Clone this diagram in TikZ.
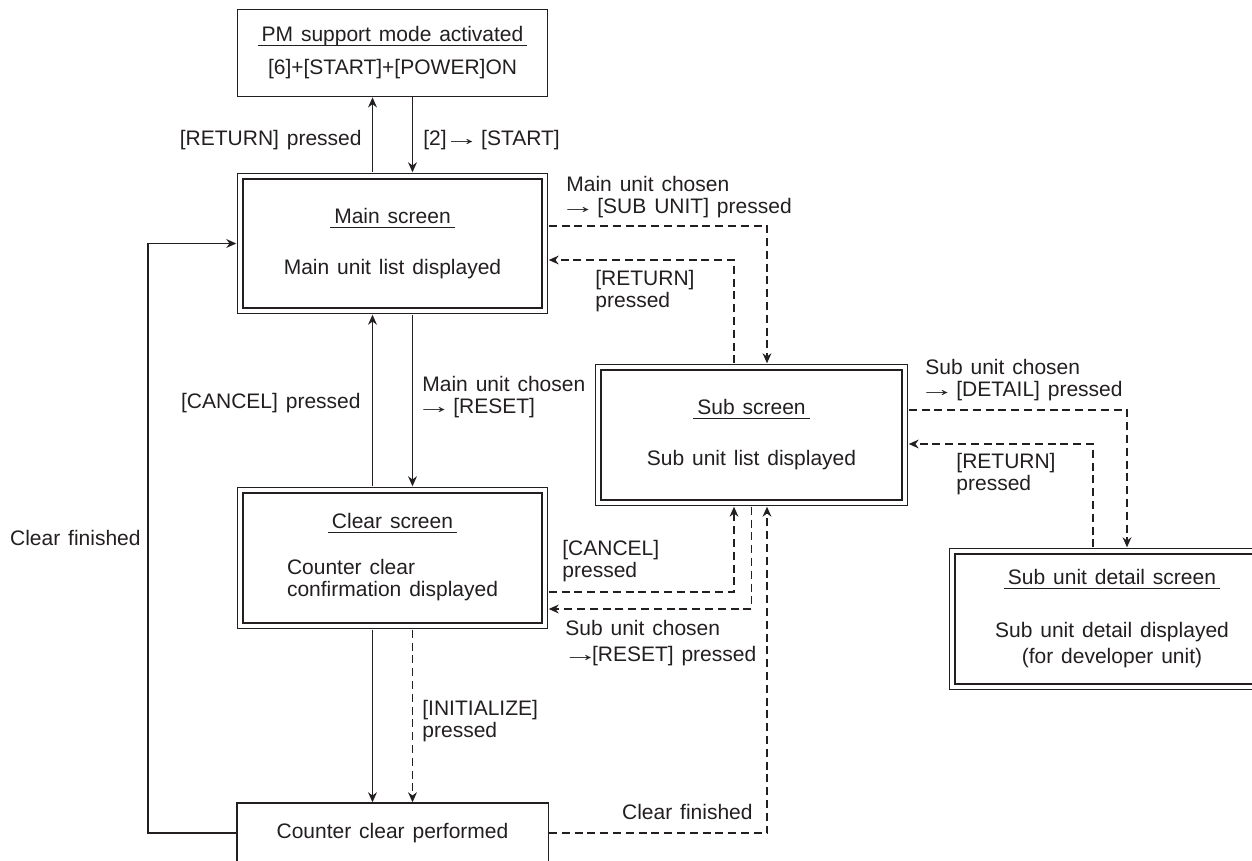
\documentclass[tikz,border=0pt]{standalone}
\usepackage{graphicx}
\usepackage{fontspec}
\setmainfont{Liberation Sans}[WordSpace=1.35]
\usetikzlibrary{arrows.meta,calc}
\definecolor{ink}{HTML}{231F20}
\newsavebox{\ttlbox}
\newcommand{\scrtitle}[1]{\sbox{\ttlbox}{\hspace{2pt}#1\hspace{2pt}}\rlap{\color{ink}\rule[-2.2pt]{\wd\ttlbox}{0.6pt}}\usebox{\ttlbox}}
\newcommand{\goto}{\kern-0.3em\scalebox{1.7}[1]{→}\kern-0.3em}

\begin{document}
\begin{tikzpicture}[x=0.5pt,y=-0.5pt,
		every node/.style={font=\fontsize{10.5}{10.5}\selectfont, text=ink},
		box/.style={draw=ink, line width=0.7pt, inner sep=0pt, align=center},
		screen/.style={box, double, double distance=2pt},
		lbl/.style={inner sep=0pt, align=left, font=\fontsize{10.5}{11}\selectfont},
		link/.style={draw=ink, line width=0.7pt},
		arr/.style={link, -{Stealth[length=5pt,width=4.4pt]}},
		dsh/.style={dash pattern=on 4pt off 2.4pt},
		]
		\useasboundingbox (0,0) rectangle (1252,861);
		\clip (0,0) rectangle (1252,861);

		% screens
		\node[box, minimum width=155.2pt, minimum height=43.7pt] (pm) at (392.5,53)
			{\scrtitle{PM support mode activated}\\[6pt][6]+[START]+[POWER]ON};
		\node[screen, minimum width=152.1pt, minimum height=67.1pt] (main) at (392.5,243.5)
			{\scrtitle{Main screen}\\[15pt]Main unit list displayed};
		\node[screen, minimum width=152.1pt, minimum height=67.6pt] (clear) at (392.5,558)
			{\scrtitle{Clear screen}\\[12.5pt]\begin{tabular}[t]{@{}l@{}}Counter clear\\confirmation displayed\end{tabular}};
		\node[screen, minimum width=153.1pt, minimum height=67.6pt] (sub) at (751.5,435)
			{\scrtitle{Sub screen}\\[15pt]Sub unit list displayed};
		\node[screen, minimum width=159.6pt, minimum height=67.6pt] (detail) at (1112,619)
			{\scrtitle{Sub unit detail screen}\\[16pt]Sub unit detail displayed\\[2.5pt](for developer unit)};
		\node[box, minimum width=155.7pt, minimum height=30pt] (perf) at (392.5,833)
			{Counter clear performed};

		% labels
		\node[lbl, anchor=east] (lretpm) at (362,140) {[RETURN] pressed};
		\node[lbl, anchor=west] (lstart) at (423,140) {[2]\,\goto\ [START]};
		\node[lbl, anchor=east] (lcancel) at (361,403) {[CANCEL] pressed};
		\node[lbl, anchor=west] (lreset) at (422,397) {Main unit chosen\\\goto\ [RESET]};
		\node[lbl, anchor=west] (linit) at (422,721) {[INITIALIZE]\\pressed};
		\node[lbl, anchor=east] (lfinl) at (141,538) {Clear finished};
		\node[lbl, anchor=west] (lsubunit) at (566,197.5) {Main unit chosen\\\goto\ [SUB UNIT] pressed};
		\node[lbl, anchor=west] (lretmain) at (595,291) {[RETURN]\\pressed};
		\node[lbl, anchor=west] (ldetail) at (925,380) {Sub unit chosen\\\goto\ [DETAIL] pressed};
		\node[lbl, anchor=west] (lretsub) at (956,474) {[RETURN]\\pressed};
		\node[lbl, anchor=west] (lcancsub) at (562,561) {[CANCEL]\\pressed};
		\node[lbl, anchor=west] (lsubreset) at (565,643) {Sub unit chosen\\[2pt]\,\goto[RESET] pressed};
		\node[lbl, anchor=east] (lfinr) at (753,812) {Clear finished};

		% solid transitions
		\draw[arr, shorten <=1.7pt] ([xshift=-10pt]main.north) -- ([xshift=-10pt]pm.south);
		\draw[arr, shorten >=1.7pt] ([xshift=10pt]pm.south) -- ([xshift=10pt]main.north);
		\draw[arr, shorten <=1.7pt, shorten >=1.7pt] ([xshift=-10pt]clear.north) -- ([xshift=-10pt]main.south);
		\draw[arr, shorten <=1.7pt, shorten >=1.7pt] ([xshift=10pt]main.south) -- ([xshift=10pt]clear.north);
		\draw[arr, shorten <=1.7pt] ([xshift=-10pt]clear.south) -- ([xshift=-10pt]perf.north);
		\draw[arr, shorten >=1.7pt] (perf.west) -- ++(-88,0) |- (main.west);

		% dashed transitions
		\draw[arr, dsh, shorten <=1.7pt] ([xshift=10pt]clear.south) -- ([xshift=10pt]perf.north);
		\draw[arr, dsh, shorten <=1.7pt, shorten >=1.7pt] ([yshift=8.75pt]main.east) -| ([xshift=7.75pt]sub.north);
		\draw[arr, dsh, shorten <=1.7pt, shorten >=1.7pt] ([xshift=-8.75pt]sub.north) |- ([yshift=-8.25pt]main.east);
		\draw[arr, dsh, shorten <=1.7pt, shorten >=1.7pt] ([yshift=12.5pt]sub.east) -| ([xshift=7.5pt]detail.north);
		\draw[arr, dsh, shorten <=1.7pt, shorten >=1.7pt] ([xshift=-9.5pt]detail.north) |- ([yshift=-4.5pt]sub.east);
		\draw[arr, dsh, shorten <=1.7pt, shorten >=1.7pt] ([yshift=-17pt]clear.east) -| ([xshift=-8.75pt]sub.south);
		\draw[arr, dsh, shorten <=1.7pt, shorten >=1.7pt] (sub.south) |- ([yshift=-25.5pt]clear.east);
		\draw[arr, dsh, shorten >=1.7pt] (perf.east) -| ([xshift=7.75pt]sub.south);
\end{tikzpicture}
\end{document}
